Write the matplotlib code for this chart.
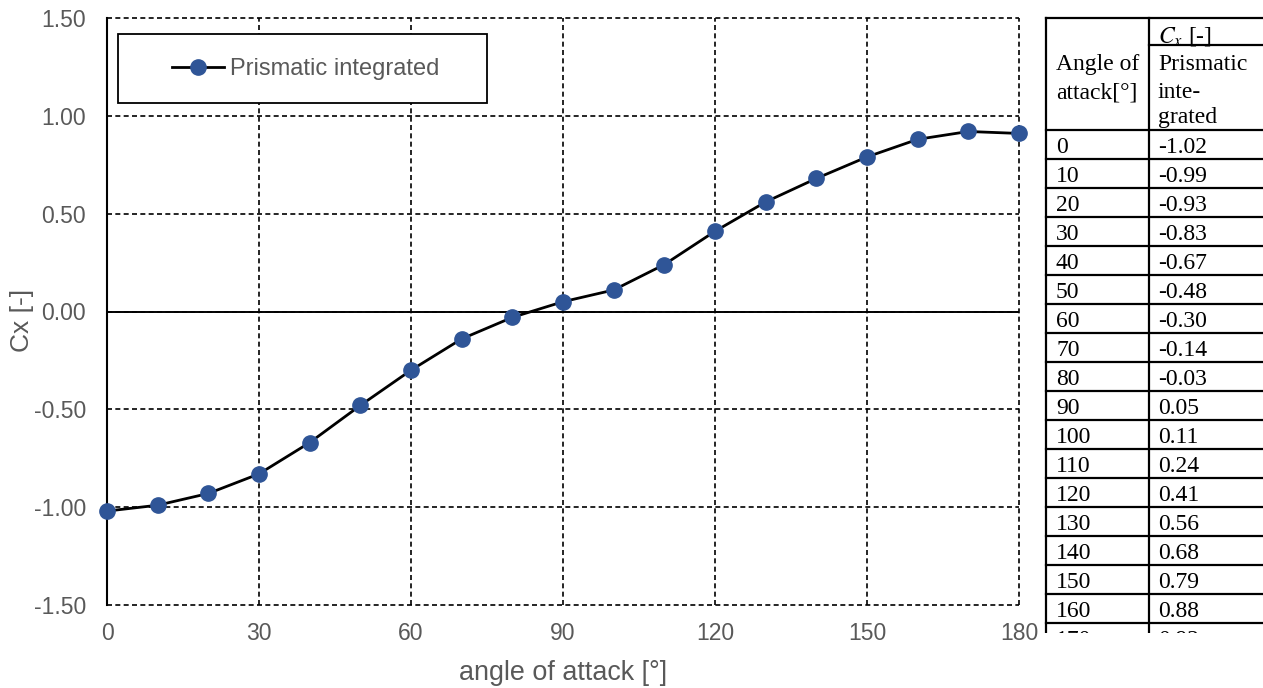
import numpy as np
import matplotlib.pyplot as plt
from matplotlib.patches import Rectangle

angles = [0, 10, 20, 30, 40, 50, 60, 70, 80, 90, 100, 110, 120, 130, 140, 150, 160, 170, 180]
cx_prismatic = [-1.02, -0.99, -0.93, -0.83, -0.67, -0.48, -0.30, -0.14, -0.03, 0.05,
                0.11, 0.24, 0.41, 0.56, 0.68, 0.79, 0.88, 0.92, 0.91]
x_ticks = [0, 30, 60, 90, 120, 150, 180]
y_ticks = [-1.5, -1.0, -0.5, 0.0, 0.5, 1.0, 1.5]

W, H = 1263, 688
GRAY = '#595959'
BLUE = '#2F5597'

plt.rcParams['font.family'] = ['Liberation Sans', 'DejaVu Sans']
plt.rcParams['mathtext.fontset'] = 'stix'

fig = plt.figure(figsize=(W / 100, H / 100), dpi=100)

# ---------- chart ----------
AX_L, AX_R, AX_T, AX_B = 107, 1019, 18, 605
ax = fig.add_axes([AX_L / W, 1 - AX_B / H, (AX_R - AX_L) / W, (AX_B - AX_T) / H])
ax.plot(angles, cx_prismatic, color='black', lw=2.0,
        marker='o', markersize=11, markerfacecolor=BLUE, markeredgecolor=BLUE,
        label='Prismatic integrated', zorder=3, clip_on=False)

ax.set_xlim(0, 180)
ax.set_ylim(-1.5, 1.5)
ax.set_xticks(x_ticks)
ax.set_yticks(y_ticks)
ax.set_yticklabels([f"{v:.2f}" for v in y_ticks])
ax.tick_params(length=0, labelsize=16.5, colors=GRAY)
ax.tick_params(axis='y', pad=15)
ax.tick_params(axis='x', pad=12)
ax.grid(True, color='black', linestyle=(0, (3, 2)), lw=1.2)
for gl in ax.get_xgridlines() + ax.get_ygridlines():
    gl.set_clip_on(False)
for s in ['top', 'right', 'bottom']:
    ax.spines[s].set_visible(False)
ax.spines['left'].set_color('black')
ax.spines['left'].set_linewidth(1.5)
ax.spines['left'].set_zorder(2.5)
ax.axhline(0, color='black', lw=1.4, zorder=2)

def px_x(p):
    return (p - AX_L) / (AX_R - AX_L)

def px_y(p):
    return (AX_B - p) / (AX_B - AX_T)

ax.set_xlabel('angle of attack [°]', fontsize=19.4, color=GRAY)
ax.xaxis.set_label_coords(0.5, px_y(660))
ax.set_ylabel('Cx [-]', fontsize=19, color=GRAY)
ax.yaxis.set_label_coords(px_x(34), px_y(320))

# legend: white box plus frameless entry
box = Rectangle((px_x(118), px_y(103)), px_x(487) - px_x(118), px_y(34) - px_y(103),
                transform=ax.transAxes, facecolor='white', edgecolor='black',
                lw=1.3, zorder=4, clip_on=False)
ax.add_patch(box)
leg = ax.legend(loc='center left', bbox_to_anchor=(px_x(172), px_y(69)),
                fontsize=17, frameon=False, borderpad=0, borderaxespad=0,
                handlelength=2.2, handletextpad=0.25, labelcolor=GRAY)
leg.set_zorder(5)

# ---------- table (cut at bottom of picture) ----------
tx0, tx1 = 1030, 1263
ty0, ty1 = 0, 633
tab = fig.add_axes([tx0 / W, 1 - ty1 / H, (tx1 - tx0) / W, (ty1 - ty0) / H])
tab.set_xlim(tx0, tx1)
tab.set_ylim(ty1, ty0)
tab.axis('off')

col_l, col_m, col_r = 1046, 1149, 1300
top, sub, head = 18, 45, 130
row_h = 29
n_rows = len(angles)
bottom = head + row_h * n_rows

lw_t = 1.6
tab.plot([col_l, col_r], [top, top], color='black', lw=lw_t)
tab.plot([col_m, col_r], [sub, sub], color='black', lw=lw_t)
tab.plot([col_l, col_l], [top, bottom], color='black', lw=lw_t)
tab.plot([col_m, col_m], [top, bottom], color='black', lw=lw_t)
for i in range(n_rows + 1):
    y = head + i * row_h
    tab.plot([col_l, col_r], [y, y], color='black', lw=lw_t)

serif = ['Liberation Serif', 'DejaVu Serif']
fs_t = 17
xl, xr = col_l + 10, col_m + 9
tab.text(xr, 42, r'$C_x$ [-]', family=serif, fontsize=fs_t, va='baseline', ha='left')
tab.text(xl, 70, 'Angle of', family=serif, fontsize=fs_t, va='baseline', ha='left')
tab.text(xl, 98, 'attack[°]', family=serif, fontsize=fs_t, va='baseline', ha='left')
tab.text(xr, 70, 'Prismatic', family=serif, fontsize=fs_t, va='baseline', ha='left')
tab.text(xr, 98, 'inte-', family=serif, fontsize=fs_t, va='baseline', ha='left')
tab.text(xr, 123, 'grated', family=serif, fontsize=fs_t, va='baseline', ha='left')
for i, (a, c) in enumerate(zip(angles, cx_prismatic)):
    yb = head + i * row_h + 23
    tab.text(xl, yb, f"{a}", family=serif, fontsize=fs_t, va='baseline', ha='left',
             clip_on=True)
    tab.text(xr, yb, f"{c:.2f}", family=serif, fontsize=fs_t, va='baseline', ha='left',
             clip_on=True)

fig.savefig('out.png', dpi=100)
